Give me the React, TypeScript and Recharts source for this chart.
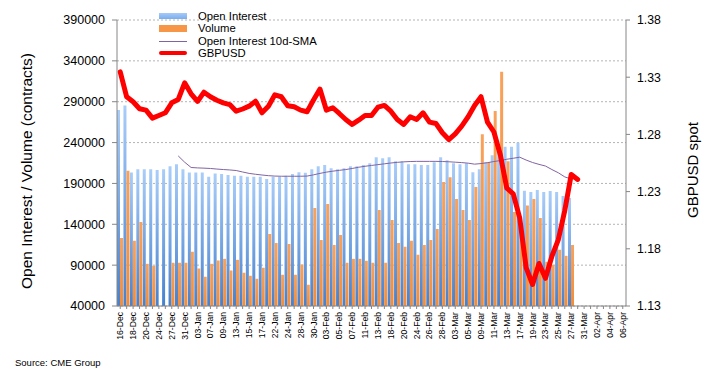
import { ComposedChart, Bar, Line, XAxis, YAxis, CartesianGrid } from "recharts";

// ---------------------------------------------------------------------------
// Data
// ---------------------------------------------------------------------------

const dates = [
  "16-Dec", "17-Dec", "18-Dec", "19-Dec", "20-Dec", "23-Dec", "24-Dec", "26-Dec", "27-Dec", "30-Dec", "31-Dec",
  "02-Jan", "03-Jan", "06-Jan", "07-Jan", "08-Jan", "09-Jan", "10-Jan", "13-Jan", "14-Jan", "15-Jan", "16-Jan",
  "17-Jan", "21-Jan", "22-Jan", "23-Jan", "24-Jan", "27-Jan", "28-Jan", "29-Jan", "30-Jan", "31-Jan",
  "03-Feb", "04-Feb", "05-Feb", "06-Feb", "07-Feb", "10-Feb", "11-Feb", "12-Feb", "13-Feb", "14-Feb", "18-Feb",
  "19-Feb", "20-Feb", "21-Feb", "24-Feb", "25-Feb", "26-Feb", "27-Feb", "28-Feb",
  "02-Mar", "03-Mar", "04-Mar", "05-Mar", "06-Mar", "09-Mar", "10-Mar", "11-Mar", "12-Mar", "13-Mar", "16-Mar",
  "17-Mar", "18-Mar", "19-Mar", "20-Mar", "23-Mar", "24-Mar", "25-Mar", "26-Mar", "27-Mar", "30-Mar", "31-Mar",
  "01-Apr", "02-Apr", "03-Apr", "04-Apr", "05-Apr", "06-Apr",
];

const openInterest = [
  280000, 285500, 203400, 207500, 207500, 207500, 206300, 207500, 211100, 213600,
  207500, 203400, 203400, 203400, 198100, 202200, 201400, 200200, 199400, 199400,
  198100, 198100, 198100, 195300, 198100, 198100, 199400, 201400, 203800, 203000,
  207500, 211100, 212400, 208700, 207500, 208700, 211100, 211100, 212400, 214800,
  222100, 220900, 222100, 217200, 217200, 213600, 213600, 212400, 212400, 216000,
  222100, 218500, 214800, 213600, 214800, 203800, 207500, 216000, 224400, 230000,
  234800, 234800, 239800, 180900, 179400, 181900, 179400, 180600, 179400, 174600,
  172100,
];

const volume = [
  123300, 205400, 119700, 142900, 91600, 89200, null, null, 92900, 92900,
  92900, 106300, 85900, 75800, 91600, 95700, 97700, 83500, 96500, 80700,
  77000, 73300, 86800, 128200, 117200, 78200, 116000, 78200, 90800, 66000,
  159900, 120900, 164800, 114800, 127000, 92900, 97700, 97700, 95300, 92900,
  157500, 92900, 145300, 117200, 112400, 119700, 102600, 114800, 120900, 134300,
  191600, 197700, 170900, 157500, 145300, 185500, 250200, 216100, 278500, 326600,
  217000, 155000, 140000, 163000, 170900, 147700, 94100, 90400, 108700, 101400,
  114800,
];

const oiSma10 = [
  null, null, null, null, null, null, null, null, null, 223700,
  216000, 209500, 209000, 208700, 208300, 207600, 207000, 206500, 205800, 204000,
  202300, 201200, 200300, 199500, 199000, 198800, 198800, 198800, 198800, 199000,
  200500, 202300, 203800, 205000, 206000, 207000, 208300, 209800, 211000, 212000,
  213000, 214000, 215000, 215800, 216400, 216800, 217000, 217000, 217000, 217000,
  216800, 216500, 216000, 215500, 214800, 213600, 214300, 215400, 216800, 218000,
  219600, 220800, 222100, 218600, 215600, 213300, 211300, 207000, 203000, 198000,
  195300,
];

const gbpusd = [
  1.3347, 1.3129, 1.3085, 1.3024, 1.3012, 1.2942, 1.2965, 1.2989, 1.3076, 1.3105,
  1.3251, 1.3155, 1.3088, 1.3169, 1.3129, 1.3099, 1.3076, 1.3061, 1.3003, 1.3022,
  1.3047, 1.309, 1.2989, 1.3047, 1.3146, 1.3129, 1.305, 1.3041, 1.3012, 1.2998,
  1.31, 1.3196, 1.3012, 1.3033, 1.2983, 1.293, 1.2887, 1.2924, 1.2965, 1.2965,
  1.3038, 1.3053, 1.3003, 1.293, 1.2887, 1.2954, 1.293, 1.2989, 1.2907, 1.2895,
  1.2814, 1.2755, 1.2805, 1.2872, 1.2954, 1.3053, 1.3129, 1.2908, 1.2821, 1.262,
  1.233, 1.228, 1.207, 1.1635, 1.1488, 1.1672, 1.1542, 1.1735, 1.1881, 1.2135,
  1.245, 1.2406,
];

const leftTicks = [40000, 90000, 140000, 190000, 240000, 290000, 340000, 390000];
const rightTicks = [1.13, 1.18, 1.23, 1.28, 1.33, 1.38];

const data = dates.map((date, i) => ({
  date,
  oi: openInterest[i] ?? null,
  vol: volume[i] ?? null,
  sma: oiSma10[i] ?? null,
  fx: gbpusd[i] ?? null,
}));

// ---------------------------------------------------------------------------
// Styling
// ---------------------------------------------------------------------------

const FONT = '"Liberation Sans", Arial, sans-serif';
const AXIS = "#868686";
const RED = "#ff0000";
const SMA = "#8064a2";

// every category gets a tick mark, only every second one a label
function DateTick({
  x,
  y,
  payload,
}: {
  x?: number;
  y?: number;
  payload?: { value: string; index: number };
}) {
  if (!payload || payload.index % 2 !== 0) return <g />;
  return (
    <g transform={`translate(${x},${y})`}>
      <text
        x={0}
        y={0}
        dy={3}
        transform="rotate(-90)"
        textAnchor="end"
        fontSize={8.6}
        fontFamily={FONT}
        fill="#000"
      >
        {payload.value}
      </text>
    </g>
  );
}

function leftTitle() {
  return (
    <text
      x={26}
      y={171}
      transform="rotate(-90 26 171)"
      textAnchor="middle"
      dominantBaseline="central"
      fontSize={15.5}
      fontFamily={FONT}
      fill="#000"
    >
      Open Interest / Volume (contracts)
    </text>
  );
}

function rightTitle() {
  return (
    <text
      x={692}
      y={170}
      transform="rotate(-90 692 170)"
      textAnchor="middle"
      dominantBaseline="central"
      fontSize={15}
      fontFamily={FONT}
      fill="#000"
    >
      GBPUSD spot
    </text>
  );
}

// ---------------------------------------------------------------------------
// Legend (drawn on top of the plot, like the original)
// ---------------------------------------------------------------------------

function LegendBox() {
  const row = (y: number, swatch: React.ReactNode, label: string) => (
    <div style={{ position: "absolute", left: 0, top: y, height: 12, display: "flex", alignItems: "center" }}>
      <div style={{ width: 28, height: 12, display: "flex", alignItems: "center" }}>{swatch}</div>
      <span style={{ marginLeft: 11, fontSize: 11.3, lineHeight: "12px", whiteSpace: "nowrap" }}>{label}</span>
    </div>
  );
  return (
    <div style={{ position: "absolute", left: 159, top: 10, fontFamily: FONT, color: "#000" }}>
      {row(0, <div style={{ width: 28, height: 6, background: "linear-gradient(#a6caf7, #7aaeee)" }} />, "Open Interest")}
      {row(12, <div style={{ width: 28, height: 7, background: "#f79646" }} />, "Volume")}
      {row(25, <div style={{ width: 28, height: 1, background: SMA }} />, "Open Interest 10d-SMA")}
      {row(37, <div style={{ width: 28, height: 4, borderRadius: 2, background: RED }} />, "GBPUSD")}
    </div>
  );
}

// ---------------------------------------------------------------------------
// Component
// ---------------------------------------------------------------------------

export default function App() {
  return (
    <div style={{ position: "relative", width: 713, height: 377, background: "#fff", fontFamily: FONT }}>
      <style>{`body{margin:0}`}</style>
      <ComposedChart
        width={713}
        height={377}
        data={data}
        margin={{ top: 20, right: 0, left: 0, bottom: 0 }}
        barCategoryGap={0}
        barGap={0}
      >
        <defs>
          <linearGradient id="oiFill" x1="0" y1="0" x2="0" y2="1">
            <stop offset="0%" stopColor="#a9cdf9" />
            <stop offset="100%" stopColor="#4581d0" />
          </linearGradient>
          <linearGradient id="volFill" x1="0" y1="0" x2="0" y2="1">
            <stop offset="0%" stopColor="#f9a25c" />
            <stop offset="100%" stopColor="#f58c37" />
          </linearGradient>
        </defs>
        <CartesianGrid yAxisId="left" vertical={false} stroke="#b4b4b4" strokeDasharray="2 2" />
        <XAxis
          dataKey="date"
          interval={0}
          height={71}
          tick={<DateTick />}
          tickSize={3}
          tickMargin={3}
          axisLine={{ stroke: AXIS }}
          tickLine={{ stroke: AXIS }}
        />
        <YAxis
          yAxisId="left"
          width={117}
          domain={[40000, 390000]}
          ticks={leftTicks}
          allowDataOverflow
          tickSize={5}
          tickMargin={7}
          tick={{ fill: "#000", fontSize: 12.5, fontFamily: FONT }}
          axisLine={{ stroke: AXIS }}
          tickLine={{ stroke: AXIS }}
          label={{ content: leftTitle }}
        />
        <YAxis
          yAxisId="right"
          orientation="right"
          width={87}
          domain={[1.13, 1.38]}
          ticks={rightTicks}
          allowDataOverflow
          tickFormatter={(v: number) => v.toFixed(2)}
          tickSize={4}
          tickMargin={7}
          tick={{ fill: "#000", fontSize: 12.3, fontFamily: FONT }}
          axisLine={{ stroke: AXIS }}
          tickLine={{ stroke: AXIS }}
          label={{ content: rightTitle }}
        />
        <Bar yAxisId="left" dataKey="oi" fill="url(#oiFill)" isAnimationActive={false} />
        <Bar yAxisId="left" dataKey="vol" fill="url(#volFill)" isAnimationActive={false} />
        <Line
          yAxisId="left"
          type="linear"
          dataKey="sma"
          stroke={SMA}
          strokeWidth={1}
          dot={false}
          activeDot={false}
          isAnimationActive={false}
        />
        <Line
          yAxisId="right"
          type="linear"
          dataKey="fx"
          stroke={RED}
          strokeWidth={5}
          strokeLinejoin="round"
          strokeLinecap="round"
          dot={false}
          activeDot={false}
          isAnimationActive={false}
        />
      </ComposedChart>
      <LegendBox />
      <div style={{ position: "absolute", left: 15, top: 357, fontSize: 9.5, color: "#000" }}>Source: CME Group</div>
    </div>
  );
}
